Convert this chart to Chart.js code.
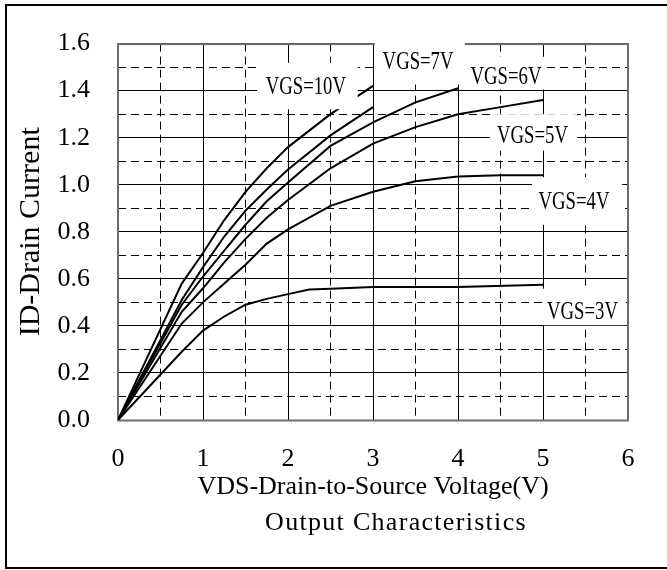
<!DOCTYPE html>
<html lang="en">
<head>
<meta charset="UTF-8">
<title>Output Characteristics</title>
<style>
  html, body { margin: 0; padding: 0; background: #fff; }
  canvas { display: block; }
</style>
</head>
<body>
<canvas id="myChart" width="667" height="570"></canvas>
<script src="https://cdn.jsdelivr.net/npm/chart.js@4/dist/chart.umd.min.js"></script>
<script>
    // curve names, bottom curve first
    var vgsLabels = ['VGS=3V', 'VGS=4V', 'VGS=5V', 'VGS=6V', 'VGS=7V', 'VGS=10V'];

    // VDS (V) / ID (A)
    var vds3 = [0, 0.75, 1, 1.25, 1.5, 1.75, 2, 2.25, 2.5, 3, 4, 5];
    var id3  = [0, 0.29, 0.38, 0.44, 0.49, 0.515, 0.535, 0.555, 0.558, 0.565, 0.565, 0.575];

    var vds4 = [0, 0.75, 1, 1.25, 1.5, 1.75, 2, 2.5, 3, 3.5, 4, 4.5, 5];
    var id4  = [0, 0.41, 0.5, 0.58, 0.66, 0.75, 0.81, 0.91, 0.97, 1.015, 1.035, 1.04, 1.04];

    var vds5 = [0, 0.75, 1, 1.25, 1.5, 1.75, 2, 2.5, 3, 3.5, 4, 4.5, 5];
    var id5  = [0, 0.46, 0.56, 0.67, 0.77, 0.86, 0.935, 1.07, 1.175, 1.245, 1.30, 1.33, 1.36];

    var vds6 = [0, 0.75, 1, 1.25, 1.5, 1.75, 2, 2.5, 3, 3.5, 4];
    var id6  = [0, 0.49, 0.61, 0.72, 0.83, 0.93, 1.01, 1.165, 1.265, 1.35, 1.41];

    var vds7 = [0, 0.75, 1, 1.25, 1.5, 1.75, 2, 2.5, 3];
    var id7  = [0, 0.51, 0.65, 0.78, 0.89, 0.98, 1.065, 1.21, 1.33];

    var vds10 = [0, 0.75, 1, 1.25, 1.5, 1.75, 2, 2.5, 3];
    var id10  = [0, 0.58, 0.71, 0.85, 0.97, 1.07, 1.16, 1.30, 1.42];

    var xTitle = 'VDS-Drain-to-Source Voltage(V)';
    var yTitle = 'ID-Drain Current';
    var subTitle = 'Output Characteristics';

    var FONT = "'Liberation Serif', 'Times New Roman', serif";

    function pairs(xs, ys) {
        return xs.map(function (x, i) { return { x: x, y: ys[i] }; });
    }

    var series = [[vds3, id3], [vds4, id4], [vds5, id5], [vds6, id6], [vds7, id7], [vds10, id10]];
    var datasets = series.map(function (s, i) {
        return {
            label: vgsLabels[i],
            data: pairs(s[0], s[1]),
            showLine: true,
            borderColor: '#000',
            borderWidth: 2,
            pointRadius: 0,
            tension: 0
        };
    });

    // white label boxes, in axis units: [x1, x2, y1, y2, text x, text y]
    var labelBoxes = {
        'VGS=10V': [1.635, 2.82, 1.518, 1.321, 2.21, 1.413],
        'VGS=7V':  [3.02, 4.08, 1.64, 1.426, 3.53, 1.523],
        'VGS=6V':  [4.08, 5.035, 1.544, 1.405, 4.565, 1.456],
        'VGS=5V':  [4.376, 5.4, 1.30, 1.145, 4.876, 1.208],
        'VGS=4V':  [4.87, 5.93, 1.032, 0.83, 5.365, 0.927],
        'VGS=3V':  [5.0, 5.976, 0.558, 0.403, 5.465, 0.457]
    };

    var decor = {
        id: 'decor',
        beforeDraw: function (chart) {
            var c = chart.ctx;
            c.save();
            c.fillStyle = '#fff';
            c.fillRect(0, 0, chart.width, chart.height);
            c.strokeStyle = '#000';
            c.lineWidth = 2;
            c.strokeRect(6, 5, chart.width + 10, 563);
            c.restore();
        },
        beforeDatasetsDraw: function (chart) {
            var a = chart.chartArea, c = chart.ctx;
            c.save();
            c.strokeStyle = '#6e6e6e';
            c.lineWidth = 2;
            c.strokeRect(a.left, a.top + 0.5, a.right - a.left, a.bottom - a.top);
            c.restore();
        },
        afterDatasetsDraw: function (chart) {
            var c = chart.ctx, xs = chart.scales.x, ys = chart.scales.y;
            c.save();
            vgsLabels.forEach(function (name) {
                var b = labelBoxes[name];
                var x1 = xs.getPixelForValue(b[0]), x2 = xs.getPixelForValue(b[1]);
                var y1 = ys.getPixelForValue(b[2]), y2 = ys.getPixelForValue(b[3]);
                c.fillStyle = '#fff';
                c.fillRect(x1, y1, x2 - x1, y2 - y1);
                c.save();
                c.translate(xs.getPixelForValue(b[4]), ys.getPixelForValue(b[5]));
                c.scale(0.72, 1);
                c.fillStyle = '#000';
                c.font = '26px ' + FONT;
                c.textAlign = 'center';
                c.textBaseline = 'middle';
                c.fillText(name, 0, 0);
                c.restore();
            });
            // caption under the axis title
            c.fillStyle = '#000';
            c.font = '26px ' + FONT;
            if ('letterSpacing' in c) c.letterSpacing = '1.3px';
            c.textAlign = 'center';
            c.textBaseline = 'middle';
            c.fillText(subTitle, 396, 523);
            c.restore();
        }
    };

    function minorY(ctx) {
        if (!ctx.tick) return [];
        return Math.round(ctx.tick.value * 10) % 2 === 0 ? [] : [8, 5];
    }
    function minorX(ctx) {
        if (!ctx.tick) return [];
        return Math.round(ctx.tick.value * 2) % 2 === 0 ? [] : [8, 5];
    }

    Chart.defaults.font.family = FONT;
    Chart.defaults.color = '#000';

    var ctx = document.getElementById('myChart').getContext('2d');
    var myChart = new Chart(ctx, {
        type: 'scatter',
        data: { datasets: datasets },
        plugins: [decor],
        options: {
            responsive: false,
            animation: false,
            layout: { padding: { left: 0, right: 39, top: 38, bottom: 66 } },
            plugins: {
                legend: { display: false },
                tooltip: { enabled: false }
            },
            scales: {
                x: {
                    type: 'linear',
                    min: 0,
                    max: 6,
                    grid: { color: '#000', lineWidth: 1, drawTicks: false },
                    border: { display: false, dash: minorX },
                    ticks: {
                        stepSize: 0.5,
                        autoSkip: false,
                        maxRotation: 0,
                        padding: 24,
                        font: { size: 26 },
                        callback: function (v) { return v % 1 === 0 ? String(v) : ''; }
                    },
                    title: {
                        display: true,
                        text: xTitle,
                        font: { size: 26 },
                        padding: { top: 0, bottom: 1 }
                    },
                    afterFit: function (scale) { scale.height = 84; }
                },
                y: {
                    min: 0,
                    max: 1.6,
                    grid: { color: '#000', lineWidth: 1, drawTicks: false },
                    border: { display: false, dash: minorY },
                    ticks: {
                        stepSize: 0.1,
                        autoSkip: false,
                        padding: 28,
                        font: { size: 26 },
                        callback: function (v) {
                            return Math.round(v * 10) % 2 === 0 ? v.toFixed(1) : '';
                        }
                    },
                    title: {
                        display: true,
                        text: yTitle,
                        font: { size: 30 },
                        padding: { top: 13, bottom: 0 }
                    },
                    afterFit: function (scale) { scale.width = 118; }
                }
            }
        }
    });
</script>
</body>
</html>
